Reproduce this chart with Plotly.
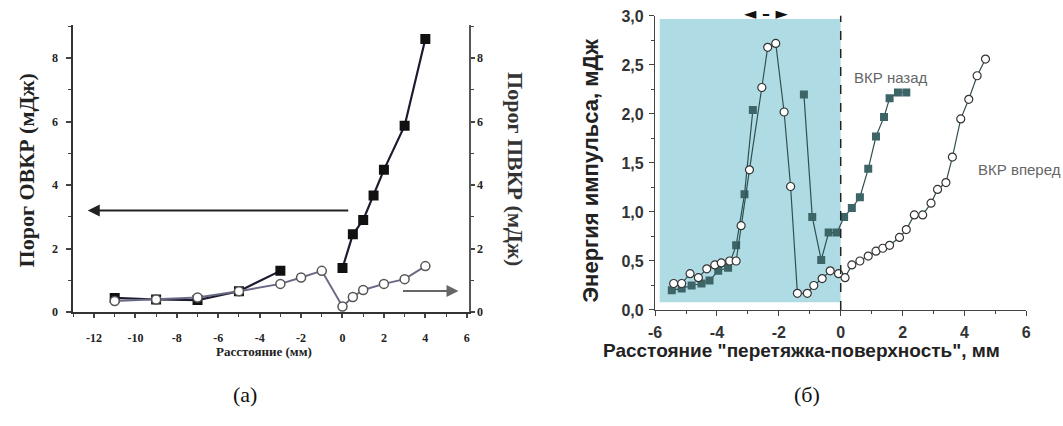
import plotly.graph_objects as go

# ---------- data (a) ----------
a_ovkr_x = [-11, -9, -7, -5, -3, None, 0, 0.5, 1, 1.5, 2, 3, 4]
a_ovkr_y = [0.45, 0.40, 0.38, 0.66, 1.30, None, 1.39, 2.45, 2.90, 3.67, 4.48, 5.87, 8.60]
a_pvkr_x = [-11, -9, -7, -5, -3, -2, -1, 0, 0.5, 1, 2, 3, 4]
a_pvkr_y = [0.35, 0.40, 0.46, 0.66, 0.89, 1.09, 1.30, 0.18, 0.48, 0.70, 0.89, 1.04, 1.45]
a_xticks = [-12, -10, -8, -6, -4, -2, 0, 2, 4, 6]
a_xticktext = ["-12", "-10", "-8", "-6", "-4", "-2", "0", "2", "4", "6"]
a_yticks = [0, 2, 4, 6, 8]

# ---------- data (b) ----------
b_back_x = [-5.46, -5.14, -4.82, -4.5, -4.24, -3.96, -3.64, -3.38, -3.11, -2.84, None,
            -1.19, -0.92, -0.63, -0.39, -0.12, 0.11, 0.36, 0.62, 0.89, 1.14, 1.40, 1.58, 1.85, 2.12]
b_back_y = [0.20, 0.22, 0.25, 0.27, 0.30, 0.40, 0.43, 0.66, 1.18, 2.04, None,
            2.20, 0.95, 0.51, 0.79, 0.79, 0.95, 1.04, 1.15, 1.44, 1.77, 1.97, 2.16, 2.22, 2.22]
b_fwd_x = [-5.4, -5.14, -4.87, -4.6, -4.33, -4.07, -3.86, -3.59, -3.38, -3.22, -2.95, -2.55,
           -2.36, -2.1, -1.83, -1.62, -1.4, -1.08, -0.87, -0.6, -0.34, -0.07, 0.14, 0.36, 0.62,
           0.89, 1.14, 1.36, 1.58, 1.9, 2.12, 2.38, 2.65, 2.92, 3.13, 3.4, 3.61, 3.88, 4.14, 4.41, 4.68]
b_fwd_y = [0.27, 0.27, 0.37, 0.33, 0.42, 0.46, 0.48, 0.50, 0.50, 0.86, 1.43, 2.27,
           2.68, 2.72, 2.02, 1.26, 0.17, 0.17, 0.25, 0.32, 0.40, 0.37, 0.33, 0.46, 0.50,
           0.55, 0.60, 0.63, 0.66, 0.74, 0.82, 0.97, 0.97, 1.09, 1.23, 1.30, 1.56, 1.95, 2.15, 2.39, 2.56]
b_xticks = [-6, -4, -2, 0, 2, 4, 6]
b_xticktext = ["-6", "-4", "-2", "0", "2", "4", "6"]
b_yticks = [0, 0.5, 1.0, 1.5, 2.0, 2.5, 3.0]
b_yticktext = ["0,0", "0,5", "1,0", "1,5", "2,0", "2,5", "3,0"]

SERIF = "Liberation Serif"
SANS = "Liberation Sans"

fig = go.Figure()

# (a) traces
fig.add_trace(go.Scatter(x=a_pvkr_x, y=a_pvkr_y, xaxis="x", yaxis="y2", mode="lines+markers",
                         line=dict(color="#6a6a86", width=2),
                         marker=dict(symbol="circle", size=9, color="white",
                                     line=dict(color="#555", width=1.5)),
                         showlegend=False))
fig.add_trace(go.Scatter(x=a_ovkr_x, y=a_ovkr_y, xaxis="x", yaxis="y", mode="lines+markers",
                         line=dict(color="#1c1c30", width=2.2), connectgaps=False,
                         marker=dict(symbol="square", size=10, color="#111"),
                         showlegend=False))

# (b) traces
fig.add_trace(go.Scatter(x=b_back_x, y=b_back_y, xaxis="x2", yaxis="y3", mode="lines+markers",
                         line=dict(color="#2f4f50", width=1.2), connectgaps=False,
                         marker=dict(symbol="square", size=8, color="#3d6466"),
                         showlegend=False))
fig.add_trace(go.Scatter(x=b_fwd_x, y=b_fwd_y, xaxis="x2", yaxis="y3", mode="lines+markers",
                         line=dict(color="#2f4f50", width=1.2),
                         marker=dict(symbol="circle", size=8, color="white",
                                     line=dict(color="#333", width=1.2)),
                         showlegend=False))

tickfont_a = dict(family=SERIF, size=12, color="#222", weight="bold")
tickfont_b = dict(family=SANS, size=16, color="#333", weight="bold")

fig.update_layout(
    width=1063, height=426, margin=dict(l=0, r=0, t=0, b=0),
    paper_bgcolor="white", plot_bgcolor="rgba(0,0,0,0)",
    xaxis=dict(domain=[0.063, 0.439], range=[-13, 6.1], anchor="y",
               tickvals=a_xticks, ticktext=a_xticktext, ticks="outside", ticklen=4, tickwidth=1.5,
               minor=dict(dtick=1, tick0=0, ticks="outside", ticklen=3, tickwidth=1),
               showline=True, linecolor="#333", linewidth=2, showgrid=False, zeroline=False,
               tickfont=tickfont_a, ticklabelstandoff=9),
    yaxis=dict(domain=[0.258, 0.958], range=[-0.001, 9.03], anchor="x",
               tickvals=a_yticks, ticks="outside", ticklen=5, tickwidth=1.5,
               minor=dict(dtick=1, tick0=0, ticks="outside", ticklen=3, tickwidth=1),
               showline=True, linecolor="#333", linewidth=2, showgrid=False, zeroline=False,
               tickfont=tickfont_a, ticklabelstandoff=6),
    yaxis2=dict(range=[-0.001, 9.03], overlaying="y", side="right", anchor="x",
                tickvals=a_yticks, ticks="outside", ticklen=4, tickwidth=1.5,
                minor=dict(dtick=1, tick0=0, ticks="outside", ticklen=3, tickwidth=1),
                showline=True, linecolor="#555", linewidth=1.5, showgrid=False, zeroline=False,
                tickfont=tickfont_a),
    xaxis2=dict(domain=[0.616, 0.969], range=[-6.002, 6.002], anchor="y3",
                tickvals=b_xticks, ticktext=b_xticktext, ticks="outside", ticklen=5, tickwidth=1.2,
                minor=dict(dtick=1, tick0=0, ticks="outside", ticklen=3, tickwidth=1),
                showline=True, linecolor="#444", linewidth=1.2, showgrid=False, zeroline=False,
                tickfont=tickfont_b, ticklabelstandoff=3),
    yaxis3=dict(domain=[0.263, 0.981], range=[-0.002, 3.002], anchor="x2",
                tickvals=b_yticks, ticktext=b_yticktext, ticks="outside", ticklen=5, tickwidth=1.2,
                minor=dict(dtick=0.25, tick0=0, ticks="outside", ticklen=3, tickwidth=1),
                showline=True, linecolor="#444", linewidth=1.2, showgrid=False, zeroline=False,
                tickfont=tickfont_b, ticklabelstandoff=2, ticklabeloverflow="allow"),
)

# shaded region and dashed line in (b)
fig.add_shape(type="rect", xref="x2", yref="y3", x0=-5.85, x1=0, y0=0.08, y1=2.97,
              fillcolor="#afdce4", line=dict(width=0), layer="below")
fig.add_shape(type="line", xref="x2", yref="y3", x0=0, x1=0, y0=0, y1=3.08,
              line=dict(color="#222", width=1.5, dash="dash"))

ann = []
# arrows (a)
ann.append(dict(x=-12.3, y=3.2, ax=0.35, ay=3.2, xref="x", yref="y", axref="x", ayref="y",
                showarrow=True, arrowhead=2, arrowsize=1.2, arrowwidth=2, arrowcolor="#222", text=""))
ann.append(dict(x=5.6, y=0.67, ax=2.85, ay=0.67, xref="x", yref="y", axref="x", ayref="y",
                showarrow=True, arrowhead=2, arrowsize=1.2, arrowwidth=2, arrowcolor="#666", text=""))
# titles (a)
ann.append(dict(x=20 / 1063, y=1 - 169 / 426, xref="paper", yref="paper", text="Порог ОВКР (мДж)",
                xanchor="center", yanchor="middle",
                textangle=-90, showarrow=False, font=dict(family=SERIF, size=22, color="#222", weight="bold")))
ann.append(dict(x=514 / 1063, y=1 - 167 / 426, xref="paper", yref="paper", text="Порог ПВКР (мДж)",
                xanchor="center", yanchor="middle",
                textangle=90, showarrow=False, font=dict(family=SERIF, size=22, color="#333", weight="bold")))
ann.append(dict(x=260 / 1063, y=1 - 357 / 426, xref="paper", yref="paper", text="Расстояние (мм)",
                xanchor="center", yanchor="middle",
                showarrow=False, font=dict(family=SERIF, size=13, color="#222", weight="bold")))
# titles (b)
ann.append(dict(x=590 / 1063, y=1 - 169 / 426, xref="paper", yref="paper", text="Энергия импульса, мДж",
                xanchor="center", yanchor="middle",
                textangle=-90, showarrow=False, font=dict(family=SANS, size=22, color="#222", weight="bold")))
ann.append(dict(x=803 / 1063, y=1 - 356 / 426, xref="paper", yref="paper",
                text="Расстояние \"перетяжка-поверхность\", мм",
                xanchor="center", yanchor="middle",
                showarrow=False, font=dict(family=SANS, size=19, color="#222", weight="bold")))
ann.append(dict(x=0.37, y=2.37, xref="x2", yref="y3", text="ВКР назад", xanchor="left",
                showarrow=False, font=dict(family=SANS, size=15, color="#666")))
ann.append(dict(x=4.37, y=1.43, xref="x2", yref="y3", text="ВКР вперед", xanchor="left",
                showarrow=False, font=dict(family=SANS, size=15, color="#666")))
ann.append(dict(x=-2.4, y=1 - 6 / 426, xref="x2", yref="paper", text="◄ – ►",
                xanchor="center", yanchor="middle",
                showarrow=False, font=dict(family="DejaVu Sans", size=16, color="#111", weight="bold")))
# panel labels
ann.append(dict(x=240 / 1063, y=1 - 402 / 426, xref="paper", yref="paper", text="(а)",
                xanchor="center", yanchor="middle",
                showarrow=False, font=dict(family=SERIF, size=22, color="#111")))
ann.append(dict(x=808 / 1063, y=1 - 402 / 426, xref="paper", yref="paper", text="(б)",
                xanchor="center", yanchor="middle",
                showarrow=False, font=dict(family=SERIF, size=22, color="#111")))
fig.update_layout(annotations=ann)

fig.write_html("out.html")
